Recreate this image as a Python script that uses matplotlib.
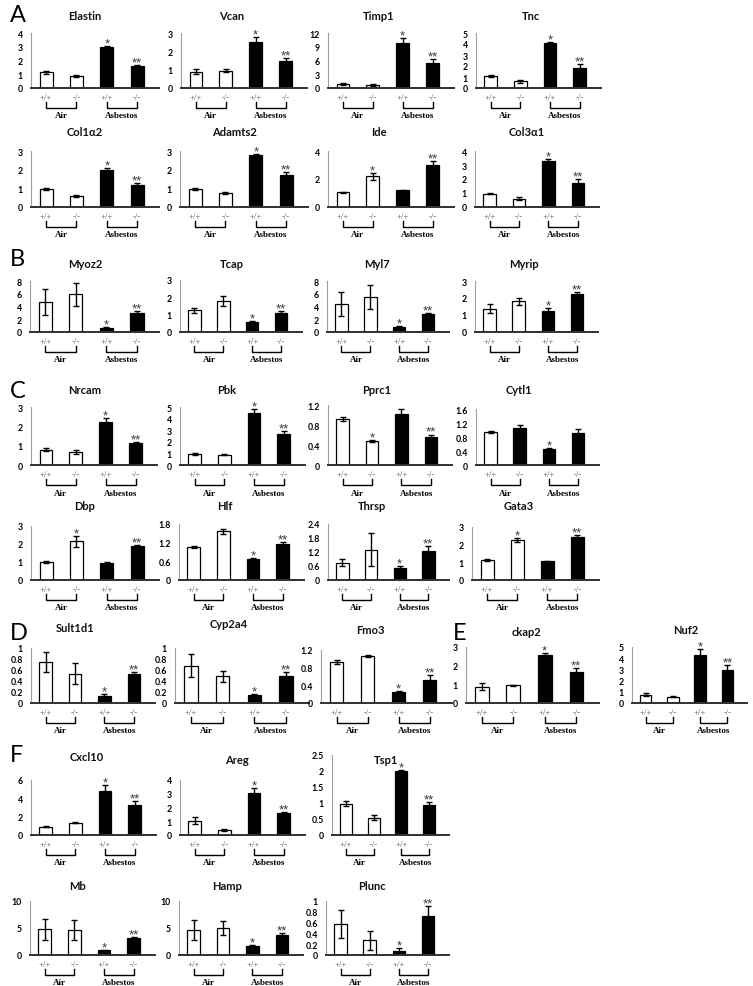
import matplotlib
matplotlib.use("Agg")
import matplotlib.pyplot as plt
import matplotlib.transforms as mtransforms

# ---------------- data ----------------
genotypes = ["+/+", "-/-", "+/+", "-/-"]
groups = ["Air", "Asbestos"]

# Panel A
A_genes = ["Elastin", "Vcan", "Timp1", "Tnc", "Col1α2", "Adamts2", "Ide", "Col3α1"]
A_means = [[1.15, 0.90, 2.95, 1.60], [0.90, 0.95, 2.50, 1.50], [0.80, 0.70, 9.80, 5.50], [1.10, 0.60, 4.05, 1.85],
           [0.95, 0.58, 2.00, 1.20], [0.97, 0.75, 2.80, 1.70], [1.05, 2.20, 1.20, 3.00], [0.95, 0.60, 3.30, 1.75]]
A_errs = [[0.10, 0.08, 0.07, 0.07], [0.15, 0.07, 0.30, 0.15], [0.20, 0.20, 1.20, 0.90], [0.08, 0.15, 0.12, 0.30],
          [0.05, 0.05, 0.07, 0.10], [0.04, 0.07, 0.05, 0.15], [0.05, 0.25, 0.05, 0.30], [0.05, 0.08, 0.12, 0.25]]
A_stars = [["", "", "*", "**"], ["", "", "*", "**"], ["", "", "*", "**"], ["", "", "*", "**"],
           ["", "", "*", "**"], ["", "", "*", "**"], ["", "*", "", "**"], ["", "", "*", "**"]]
A_yticks = [[0, 1, 2, 3, 4], [0, 1, 2, 3], [0, 3, 6, 9, 12], [0, 1, 2, 3, 4, 5],
            [0, 1, 2, 3], [0, 1, 2, 3], [0, 2, 4], [0, 1, 2, 3, 4]]

# Panel B
B_genes = ["Myoz2", "Tcap", "Myl7", "Myrip"]
B_means = [[4.70, 5.90, 0.70, 3.05], [1.25, 1.80, 0.56, 1.10], [4.40, 5.50, 0.75, 2.80], [1.38, 1.80, 1.22, 2.25]]
B_errs = [[2.10, 1.85, 0.10, 0.20], [0.16, 0.30, 0.07, 0.10], [1.90, 1.90, 0.15, 0.15], [0.28, 0.20, 0.20, 0.10]]
B_stars = [["", "", "*", "**"], ["", "", "*", "**"], ["", "", "*", "**"], ["", "", "*", "**"]]
B_yticks = [[0, 2, 4, 6, 8], [0, 1, 2, 3], [0, 2, 4, 6, 8], [0, 1, 2, 3]]

# Panel C
C_genes = ["Nrcam", "Pbk", "Pprc1", "Cytl1", "Dbp", "Hlf", "Thrsp", "Gata3"]
C_means = [[0.80, 0.68, 2.22, 1.15], [0.95, 0.90, 4.47, 2.70], [0.93, 0.48, 1.03, 0.57], [0.95, 1.05, 0.45, 0.92],
           [1.00, 2.15, 0.95, 1.90], [1.05, 1.56, 0.66, 1.17], [0.75, 1.30, 0.50, 1.25], [1.12, 2.27, 1.05, 2.42]]
C_errs = [[0.08, 0.12, 0.20, 0.05], [0.05, 0.03, 0.37, 0.20], [0.04, 0.02, 0.09, 0.04], [0.03, 0.10, 0.03, 0.10],
          [0.04, 0.30, 0.07, 0.07], [0.03, 0.07, 0.05, 0.05], [0.15, 0.70, 0.08, 0.22], [0.06, 0.12, 0.05, 0.13]]
C_stars = [["", "", "*", "**"], ["", "", "*", "**"], ["", "*", "", "**"], ["", "", "*", ""],
           ["", "*", "", "**"], ["", "", "*", "**"], ["", "", "*", "**"], ["", "*", "", "**"]]
C_yticks = [[0, 1, 2, 3], [0, 1, 2, 3, 4, 5], [0, 0.4, 0.8, 1.2], [0, 0.4, 0.8, 1.2, 1.6],
            [0, 1, 2, 3], [0, 0.6, 1.2, 1.8], [0, 0.6, 1.2, 1.8, 2.4], [0, 1, 2, 3]]

# Panel D
D_genes = ["Sult1d1", "Cyp2a4", "Fmo3"]
D_means = [[0.75, 0.53, 0.13, 0.53], [0.68, 0.49, 0.14, 0.49], [0.93, 1.07, 0.26, 0.53]]
D_errs = [[0.18, 0.19, 0.03, 0.04], [0.21, 0.10, 0.03, 0.08], [0.04, 0.02, 0.02, 0.11]]
D_stars = [["", "", "*", "**"], ["", "", "*", "**"], ["", "", "*", "**"]]
D_yticks = [[0, 0.2, 0.4, 0.6, 0.8, 1], [0, 0.2, 0.4, 0.6, 0.8, 1], [0, 0.4, 0.8, 1.2]]

# Panel E
E_genes = ["ckap2", "Nuf2"]
E_means = [[0.88, 0.95, 2.55, 1.65], [0.75, 0.55, 4.25, 2.95]]
E_errs = [[0.20, 0.02, 0.12, 0.20], [0.10, 0.05, 0.55, 0.45]]
E_stars = [["", "", "*", "**"], ["", "", "*", "**"]]
E_yticks = [[0, 1, 2, 3], [0, 1, 2, 3, 4, 5]]

# Panel F
F_genes = ["Cxcl10", "Areg", "Tsp1", "Mb", "Hamp", "Plunc"]
F_means = [[0.90, 1.35, 4.83, 3.25], [1.05, 0.38, 3.03, 1.58], [0.98, 0.54, 2.00, 0.95],
           [4.80, 4.65, 0.85, 3.15], [4.60, 5.00, 1.70, 3.75], [0.57, 0.27, 0.08, 0.72]]
F_errs = [[0.08, 0.08, 0.65, 0.45], [0.25, 0.07, 0.38, 0.10], [0.08, 0.07, 0.02, 0.08],
          [1.95, 1.85, 0.15, 0.12], [1.80, 1.35, 0.12, 0.40], [0.26, 0.18, 0.05, 0.18]]
F_stars = [["", "", "*", "**"], ["", "", "*", "**"], ["", "", "*", "**"],
           ["", "", "*", "**"], ["", "", "*", "**"], ["", "", "*", "**"]]
F_yticks = [[0, 2, 4, 6], [0, 1, 2, 3, 4], [0, 0.5, 1, 1.5, 2, 2.5],
            [0, 5, 10], [0, 5, 10], [0, 0.2, 0.4, 0.6, 0.8, 1]]

# ---------------- layout (pixels) ----------------
W, H, DPI = 753, 987, 100
# (left spine x, right end x, zero line y, top tick y), (title x, title y)
A_boxes = [(31, 159, 89, 34), (181, 307, 89, 34), (328, 454, 89, 34), (476, 601, 89, 34),
           (31, 159, 208, 152), (180, 308, 208, 152), (328, 454, 208, 152), (475, 599, 208, 152)]
A_titles = [(85, 17), (232, 17), (379, 17), (531, 17), (85, 133), (234, 133), (379, 133), (527, 133)]
B_boxes = [(30, 159, 333, 282), (180, 302, 333, 281), (327, 449, 333, 282), (475, 598, 333, 282)]
B_titles = [(85, 265), (232, 265), (377, 265), (524, 265)]
C_boxes = [(31, 157, 466, 408), (180, 305, 466, 408), (328, 452, 466, 406), (476, 599, 466, 410),
           (31, 159, 581, 527), (179, 304, 581, 525), (328, 449, 581, 525), (472, 599, 581, 528)]
C_titles = [(85, 390), (227, 390), (377, 390), (519, 390), (85, 507), (225, 507), (372, 507), (519, 507)]
D_boxes = [(31, 155, 704, 649), (175, 309, 704, 649), (321, 452, 704, 651)]
D_titles = [(75, 628), (229, 625), (370, 631)]
E_boxes = [(466, 599, 704, 648), (632, 747, 704, 648)]
E_titles = [(527, 632), (686, 631)]
F_boxes = [(31, 156, 836, 781), (180, 305, 836, 781), (332, 449, 836, 756),
           (30, 155, 956, 902), (179, 303, 956, 902), (326, 449, 956, 902)]
F_titles = [(87, 758), (237, 761), (386, 761), (77, 887), (227, 887), (372, 887)]
letters = [("A", 10, 15), ("B", 10, 260), ("C", 10, 392), ("D", 10, 633), ("E", 453, 633), ("F", 10, 755)]

AIR_COLORS = ["white", "white", "black", "black"]
SPECIAL_COLORS = {"Cytl1": ["white", "black", "black", "black"]}

fig = plt.figure(figsize=(W / DPI, H / DPI), dpi=DPI)
fig.patch.set_facecolor("white")

TITLE_FONT = dict(family=["Lato", "DejaVu Sans"], fontsize=8, weight="bold", color="#111111")
TICK_FONT = dict(family=["Lato", "DejaVu Sans"], fontsize=6.3, weight="bold")
GENO_FONT = dict(family=["Liberation Serif", "DejaVu Serif"], fontsize=6.3, color="#5a5a5a")
GROUP_FONT = dict(family=["Liberation Serif", "DejaVu Serif"], fontsize=6.5, weight="bold")


def draw_panel(gene, means, errs, stars, yticks, box, title_xy):
    left, right, zero, top = box
    hpx = zero - top
    ax = fig.add_axes([left / W, 1 - zero / H, (right - left) / W, hpx / H])
    x = list(range(len(means)))
    colors = SPECIAL_COLORS.get(gene, AIR_COLORS)
    ax.bar(x, means, width=0.43, color=colors, edgecolor="black", linewidth=0.9, zorder=2)
    ax.errorbar(x, means, yerr=errs, fmt="none", ecolor="black", elinewidth=1.0,
                capsize=2.4, capthick=1.0, zorder=3, clip_on=False)
    ax.set_xlim(-0.5, 3.72)
    ax.set_ylim(0, yticks[-1])
    ax.set_yticks(yticks)
    ax.set_yticklabels([f"{t:g}" for t in yticks], **TICK_FONT)
    ax.set_xticks([])
    ax.tick_params(axis="y", length=0, pad=6)
    for s in ("top", "right"):
        ax.spines[s].set_visible(False)
    ax.spines["left"].set_color("#a0a0a0")
    ax.spines["left"].set_linewidth(0.8)
    ax.spines["bottom"].set_color("#303030")
    ax.spines["bottom"].set_linewidth(1.4)
    ax.spines["bottom"].set_zorder(4)
    ax.patch.set_alpha(0)

    # significance stars
    for xi, m, e, s in zip(x, means, errs, stars):
        if s:
            ax.annotate(s, (xi, m + e), xytext=(0, -0.3), textcoords="offset points",
                        ha="center", va="baseline", fontsize=9.5, color="#3a3a3a",
                        family=["Liberation Sans", "DejaVu Sans"], annotation_clip=False)

    tr = mtransforms.blended_transform_factory(ax.transData, ax.transAxes)

    def fy(px):
        return -px / hpx

    for xi, g in zip(x, genotypes):
        ax.text(xi, fy(9), g, transform=tr, ha="center", va="center", **GENO_FONT)
    for gi, gname in enumerate(groups):
        x0, x1 = x[2 * gi], x[2 * gi + 1]
        ax.plot([x0, x0, x1, x1], [fy(14), fy(20), fy(20), fy(14)], transform=tr,
                color="black", lw=1.0, clip_on=False, solid_joinstyle="miter")
        ax.text((x0 + x1) / 2, fy(27.5), gname, transform=tr, ha="center", va="center", **GROUP_FONT)

    fig.text(title_xy[0] / W, 1 - title_xy[1] / H, gene, ha="center", va="center", **TITLE_FONT)
    return ax


sections = [
    (A_genes, A_means, A_errs, A_stars, A_yticks, A_boxes, A_titles),
    (B_genes, B_means, B_errs, B_stars, B_yticks, B_boxes, B_titles),
    (C_genes, C_means, C_errs, C_stars, C_yticks, C_boxes, C_titles),
    (D_genes, D_means, D_errs, D_stars, D_yticks, D_boxes, D_titles),
    (E_genes, E_means, E_errs, E_stars, E_yticks, E_boxes, E_titles),
    (F_genes, F_means, F_errs, F_stars, F_yticks, F_boxes, F_titles),
]
for genes, means, errs, stars, yticks, boxes, titles in sections:
    for i in range(len(genes)):
        draw_panel(genes[i], means[i], errs[i], stars[i], yticks[i], boxes[i], titles[i])

for letter, lx, ly in letters:
    fig.text(lx / W, 1 - ly / H, letter, ha="left", va="center", fontsize=17,
             family=["Lato", "DejaVu Sans"], weight="normal", color="black")

fig.savefig("out.png", dpi=DPI, facecolor="white")
